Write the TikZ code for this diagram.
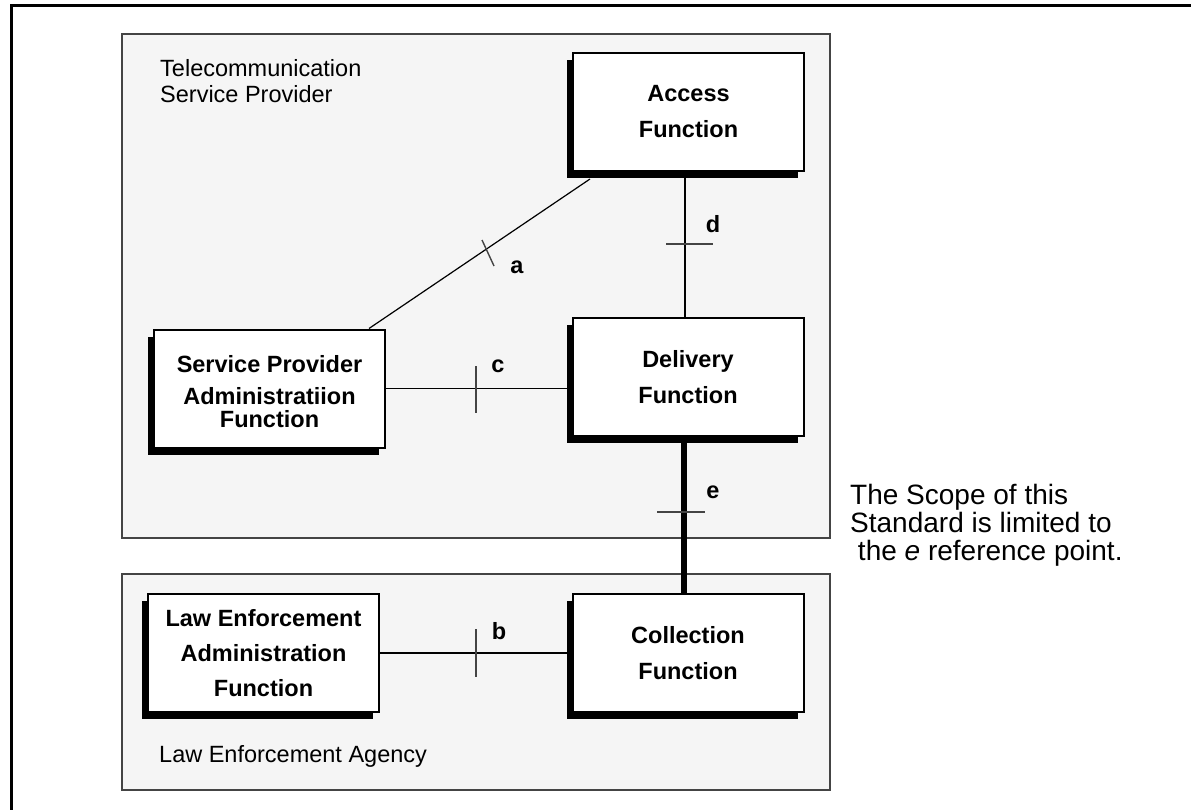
\documentclass[tikz,border=0pt]{standalone}
\usepackage{fontspec}
\setmainfont{Liberation Sans}
\usetikzlibrary{shadows,calc,backgrounds}
\pgfdeclarelayer{edges}
\pgfsetlayers{background,edges,main}
\definecolor{grpfill}{HTML}{F5F5F5}
\definecolor{grpline}{HTML}{444444}
\definecolor{tickcol}{HTML}{444444}
\begin{document}
\begin{tikzpicture}[x=1pt,y=-1pt,
  fbox/.style={draw=black, line width=2pt, fill=white, minimum width=231pt, minimum height=118pt,
    inner sep=0pt, align=center, font=\bfseries\fontsize{23.5}{36}\selectfont,
    drop shadow={shadow xshift=-6pt, shadow yshift=-7pt, fill=black, opacity=1}},
  grp/.style={draw=grpline, line width=1.3pt, fill=grpfill, inner sep=0pt},
  plain/.style={inner sep=0pt, font=\fontsize{23.5}{26}\selectfont, align=left},
  reflabel/.style={inner sep=0pt, anchor=base, font=\bfseries\fontsize{23.5}{26}\selectfont},
  conn/.style={draw=black, line width=1.2pt},
  tick/.style={draw=tickcol, line width=1.4pt}]
\useasboundingbox (0,0) rectangle (1191,810);
\begin{scope}
  \clip (0,0) rectangle (1191,810);
  \draw[line width=3pt] (11.5,5.5) rectangle (1400,1000);
\end{scope}

% group boxes
\begin{pgfonlayer}{background}
  \node[grp, minimum width=708pt, minimum height=504pt] (tsp) at (476,286) {};
  \node[grp, minimum width=708pt, minimum height=216pt] (lea) at (476,682) {};
\end{pgfonlayer}

\node[plain, anchor=north west] (tsplabel) at (160,59.5) {Telecommunication\\Service Provider};
\node[plain, anchor=base west] (lealabel) at (159,762) {Law Enforcement Agency};
\node[plain, anchor=north west, font=\fontsize{28}{28}\selectfont] (scope) at (850,484.5)
  {The Scope of this\\Standard is limited to\\\ the \textit{e} reference point.};

% function boxes
\node[fbox] (acc) at (688.5,112) {Access\\Function};
\node[fbox] (del) at (688,377) {Delivery\\Function};
\node[fbox] (spaf) at (269.5,388.5) {\raisebox{-4pt}[\height][\depth]{\begin{tabular}{@{}c@{}}Service Provider\\[-4pt]Administratiion\\[-13pt]Function\end{tabular}}};
\node[fbox] (col) at (688,653) {Collection\\Function};
\node[fbox] (leaf) at (263.5,653) {Law Enforcement\\[-1pt]Administration\\[-1pt]Function};

% connectors
\begin{pgfonlayer}{edges}
  \draw[conn] ($(spaf.north east)+(-17,0)$) -- ($(acc.south west)+(18,7)$);
  \draw[conn] (spaf.east) -- (spaf.east -| del.center);
  \draw[conn] (leaf.east) -- (leaf.east -| col.center);
  \draw[conn] ($(acc.south)+(-3.5,0)$) -- ($(del.north)+(-3,0)$);
  \draw[line width=6pt] ($(del.south)+(-4,0)$) -- ($(col.north)+(-4,0)$);
\end{pgfonlayer}

% ticks
\draw[tick] (482,240) -- (494,266);
\draw[tick] (666,244) -- (713,244);
\draw[tick] (476,366) -- (476,413);
\draw[tick] (476,629) -- (476,677);
\draw[tick] (657,512) -- (705,512);

% reference point labels
\node[reflabel] (la) at (517,273) {a};
\node[reflabel] (ld) at (713,232.5) {d};
\node[reflabel] (lc) at (498,372) {c};
\node[reflabel] (le) at (713,498) {e};
\node[reflabel] (lb) at (499,639.5) {b};
\end{tikzpicture}
\end{document}
